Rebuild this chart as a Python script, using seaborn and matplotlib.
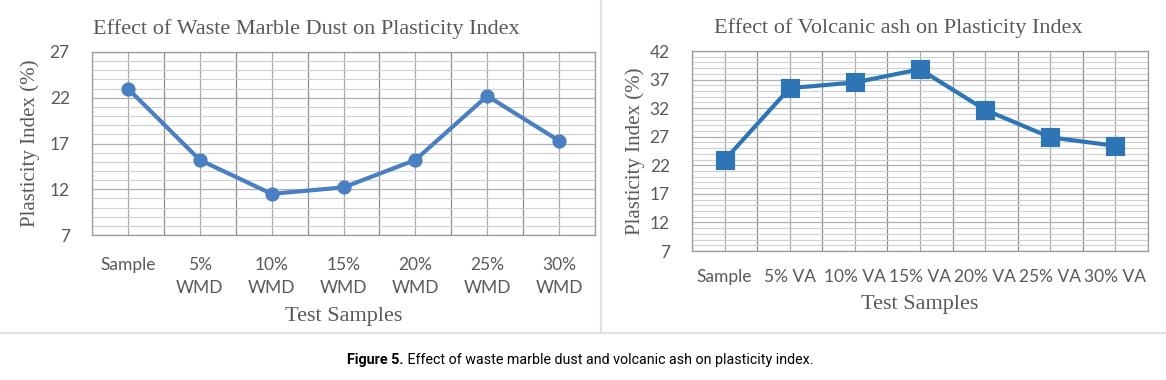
import matplotlib
matplotlib.use("Agg")
import matplotlib.pyplot as plt
from matplotlib.lines import Line2D
from matplotlib.ticker import MultipleLocator
import seaborn as sns
import pandas as pd

# data
wmd_labels = ["Sample", "5%\nWMD", "10%\nWMD", "15%\nWMD", "20%\nWMD", "25%\nWMD", "30%\nWMD"]
wmd_pi = [23.0, 15.2, 11.5, 12.2, 15.2, 22.2, 17.3]
wmd_yticks = [7, 12, 17, 22, 27]

va_labels = ["Sample", "5% VA", "10% VA", "15% VA", "20% VA", "25% VA", "30% VA"]
va_pi = [22.9, 35.5, 36.5, 38.8, 31.7, 26.9, 25.4]
va_yticks = [7, 12, 17, 22, 27, 32, 37, 42]

sns.set_theme(style="white")
plt.rcParams["font.family"] = ["Lato", "DejaVu Sans"]

TXT = "#595959"
SERIF = ["Liberation Serif", "DejaVu Serif"]


def draw(ax, labels, values, yticks, color, marker, msize, title, title_x, xpad, xlabpad, ylabpad):
    df = pd.DataFrame({"sample": labels, "pi": values})
    sns.pointplot(data=df, x="sample", y="pi", order=labels, color=color,
                  marker=marker, markersize=msize, linewidth=3.0, ax=ax)
    ax.set_xlim(-0.5, len(labels) - 0.5)
    ax.set_ylim(yticks[0], yticks[-1])
    ax.set_yticks(yticks)
    ax.yaxis.set_minor_locator(MultipleLocator(1))
    ax.set_xticks(range(len(labels)), minor=False)
    ax.set_xticks([i - 0.5 for i in range(len(labels) + 1)], minor=True)
    ax.grid(True, which="minor", axis="y", color="#d0d0d0", lw=0.8)
    ax.grid(True, which="major", axis="y", color="#b0b0b0", lw=0.9)
    ax.grid(True, which="major", axis="x", color="#a8a8a8", lw=0.9)
    ax.grid(True, which="minor", axis="x", color="#8c8c8c", lw=0.9)
    ax.set_axisbelow(True)
    for s in ax.spines.values():
        s.set_color("#9a9a9a")
        s.set_linewidth(0.9)
    ax.tick_params(axis="both", which="both", length=0, colors=TXT, labelsize=12.5)
    ax.tick_params(axis="y", pad=16)
    ax.tick_params(axis="x", pad=xpad)
    ax.set_title(title, family=SERIF, fontsize=16, color=TXT, pad=13, x=title_x)
    ax.set_ylabel("Plasticity Index (%)", family=SERIF, fontsize=15, color=TXT, labelpad=ylabpad)
    ax.set_xlabel("Test Samples", family=SERIF, fontsize=16, color=TXT, labelpad=xlabpad)


fig = plt.figure(figsize=(11.66, 3.8), dpi=100)
ax1 = fig.add_axes([92 / 1166, 1 - 235 / 380, (595 - 92) / 1166, (235 - 52) / 380])
ax2 = fig.add_axes([692 / 1166, 1 - 251 / 380, (1148 - 692) / 1166, (251 - 51) / 380])

draw(ax1, wmd_labels, wmd_pi, wmd_yticks, "#4a7fc1", "o", 8,
     "Effect of Waste Marble Dust on Plasticity Index", 0.427, 16, 8, 7)
draw(ax2, va_labels, va_pi, va_yticks, "#2e75b6", "s", 11,
     "Effect of Volcanic ash on Plasticity Index", 0.452, 13, 7, 3)
for lab in ax1.get_xticklabels():
    lab.set_linespacing(1.55)

# panel frames
fig.add_artist(Line2D([601 / 1166, 601 / 1166], [1 - 333 / 380, 1], color="#e0e0e0", lw=1.5))
fig.add_artist(Line2D([0, 1], [1 - 333 / 380, 1 - 333 / 380], color="#e0e0e0", lw=1.5))

# caption: bold lead-in, regular text placed right after it
cap_font = ["Roboto", "DejaVu Sans"]
lead = fig.text(347 / 1166, 1 - 360 / 380, "Figure 5.", fontsize=10.3, weight="bold", color="black",
                family=cap_font, va="center", ha="left")
fig.add_artist(matplotlib.text.Annotation(
    " Effect of waste marble dust and volcanic ash on plasticity index.",
    xy=(1, 0.5), xycoords=lead, va="center", ha="left",
    fontsize=10.3, color="black", family=cap_font))

fig.savefig("out.png", dpi=100, facecolor="white")
